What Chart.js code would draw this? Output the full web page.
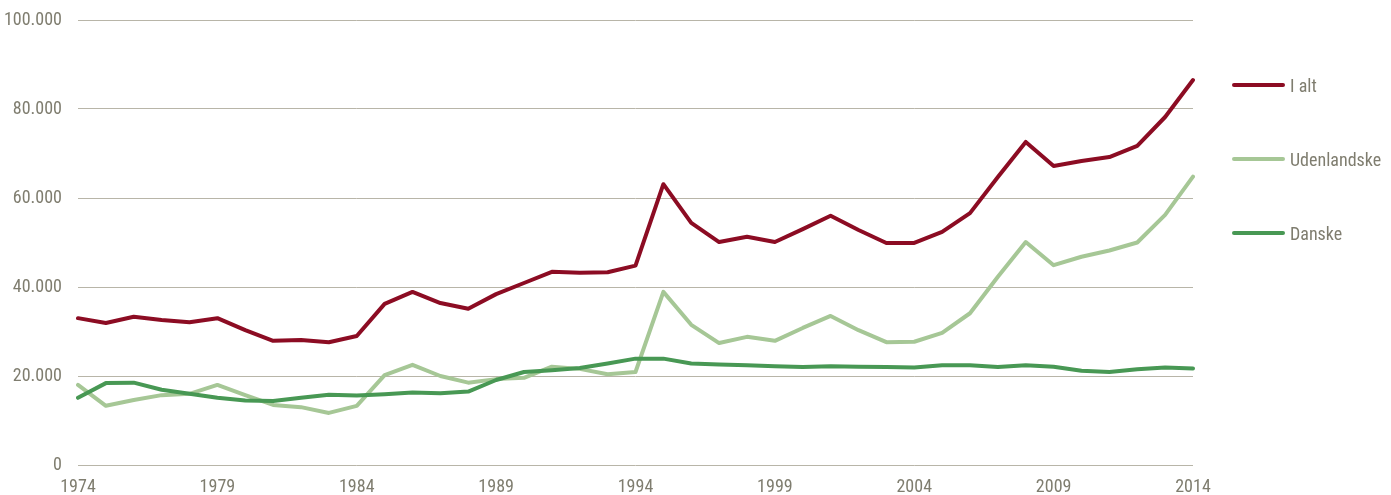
<!DOCTYPE html>
<html>
<head>
<meta charset="utf-8">
<script src="https://cdn.jsdelivr.net/npm/chart.js@4.4.1/dist/chart.umd.min.js"></script>
<style>
  html, body { margin: 0; padding: 0; background: #fff; }
  #wrap { position: relative; width: 1391px; height: 495px; }
  #legend { position: absolute; left: 1232px; top: 0; font-family: "Liberation Sans Narrow", "Arial Narrow", "Roboto Condensed", sans-serif; font-size: 18px; color: #7f7d6f; }
  .item { position: absolute; left: 0; white-space: nowrap; display: flex; align-items: center; }
  .swatch { width: 53px; height: 4px; border-radius: 2px; margin-right: 5px; }
</style>
</head>
<body>
<div id="wrap">
  <canvas id="c" width="1391" height="495"></canvas>
  <div id="legend"></div>
</div>
<script>
const years = [];
for (let y = 1974; y <= 2014; y++) years.push(String(y));

const iAlt = [33.0,31.9,33.3,32.6,32.1,33.0,30.3,27.9,28.1,27.6,29.0,36.2,38.9,36.4,35.1,38.4,40.9,43.4,43.2,43.3,44.8,63.1,54.4,50.1,51.3,50.1,53.0,56.0,52.8,49.9,49.9,52.4,56.6,64.7,72.6,67.2,68.3,69.2,71.7,78.2,86.5].map(v => v * 1000);
const udenlandske = [18.0,13.3,14.6,15.7,16.0,18.0,15.7,13.5,13.0,11.7,13.3,20.2,22.5,20.0,18.5,19.3,19.6,22.1,21.6,20.4,20.9,38.9,31.5,27.4,28.8,27.9,30.8,33.5,30.3,27.6,27.7,29.7,34.1,42.3,50.1,44.9,46.8,48.2,50.0,56.2,64.8].map(v => v * 1000);
const danske = [15.1,18.4,18.5,16.9,16.0,15.1,14.5,14.4,15.1,15.8,15.6,15.9,16.3,16.1,16.5,19.1,20.9,21.3,21.8,22.8,23.9,23.9,22.8,22.6,22.4,22.2,22.0,22.2,22.1,22.0,21.9,22.4,22.4,22.0,22.4,22.1,21.2,20.9,21.5,21.9,21.7].map(v => v * 1000);
const yTicks = [0, 20000, 40000, 60000, 80000, 100000];

const seriesNames = ["I alt", "Udenlandske", "Danske"];
const seriesColors = ["#8c0c23", "#a6c796", "#489854"];

const FONT = '"Liberation Sans Narrow", "Arial Narrow", "Roboto Condensed", sans-serif';
const TXT = "#7f7d6f";

function fmt(v) {
  return String(v).replace(/\B(?=(\d{3})+(?!\d))/g, ".");
}

const datasets = [iAlt, udenlandske, danske].map((d, i) => ({
  label: seriesNames[i],
  data: d,
  borderColor: seriesColors[i],
  backgroundColor: seriesColors[i],
  borderWidth: 4,
  pointRadius: 0,
  tension: 0,
  fill: false,
  borderJoinStyle: "round",
  borderCapStyle: "round"
}));

const chart = new Chart(document.getElementById("c"), {
  type: "line",
  data: { labels: years, datasets: datasets.slice().reverse() },
  options: {
    responsive: false,
    animation: false,
    layout: { padding: { left: 0, right: 198, top: 20, bottom: 0 } },
    plugins: { legend: { display: false }, tooltip: { enabled: false } },
    scales: {
      x: {
        type: "category",
        offset: false,
        grid: { display: false, drawTicks: false },
        border: { display: false },
        ticks: {
          autoSkip: false,
          maxRotation: 0,
          minRotation: 0,
          padding: 12,
          color: TXT,
          font: { family: FONT, size: 18 },
          callback: function (val, idx) {
            return (idx % 5 === 0) ? years[idx] : null;
          }
        },
        afterFit: function (s) { s.height = 30; }
      },
      y: {
        min: 0,
        max: 100000,
        afterBuildTicks: function (s) { s.ticks = yTicks.map(v => ({ value: v })); },
        grid: { color: "#b8b5a8", lineWidth: 1, drawTicks: false },
        border: { display: false },
        ticks: {
          padding: 16,
          color: TXT,
          font: { family: FONT, size: 18 },
          callback: function (v) { return fmt(v); }
        },
        afterFit: function (s) { s.width = 78; s.paddingTop = 0; s.paddingBottom = 0; }
      }
    }
  }
});

const legend = document.getElementById("legend");
const rowsY = [85, 159, 233];
seriesNames.forEach((name, i) => {
  const it = document.createElement("div");
  it.className = "item";
  it.style.top = (rowsY[i] - 11) + "px";
  it.style.height = "22px";
  const sw = document.createElement("span");
  sw.className = "swatch";
  sw.style.background = seriesColors[i];
  const tx = document.createElement("span");
  tx.textContent = name;
  it.appendChild(sw);
  it.appendChild(tx);
  legend.appendChild(it);
});
</script>
</body>
</html>
